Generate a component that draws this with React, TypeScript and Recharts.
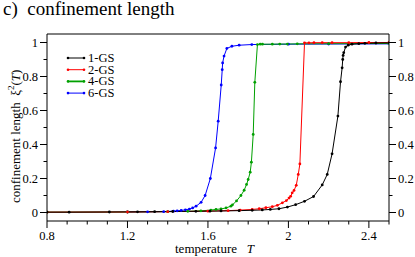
import { LineChart, Line, XAxis, YAxis, ReferenceArea } from "recharts";

const FONT = '"Liberation Serif", "Times New Roman", serif';

// temperature / xi^2 values
const gs1T = [0.8, 0.91, 1.11, 1.25, 1.335, 1.425, 1.54, 1.61, 1.665, 1.755, 1.82, 1.87, 1.91, 1.953, 1.995, 2.036, 2.08, 2.125, 2.168, 2.193, 2.217, 2.246, 2.259, 2.267, 2.27, 2.272, 2.275, 2.284, 2.297, 2.316, 2.35, 2.38, 2.435, 2.5];
const gs1Xi = [0.002, 0.002, 0.003, 0.004, 0.005, 0.006, 0.007, 0.008, 0.009, 0.011, 0.013, 0.015, 0.018, 0.022, 0.032, 0.046, 0.066, 0.094, 0.162, 0.224, 0.345, 0.567, 0.769, 0.851, 0.9, 0.924, 0.94, 0.973, 0.984, 0.99, 0.993, 0.995, 0.997, 0.998];

const gs2T = [0.8, 1.2, 1.4, 1.6, 1.7, 1.76, 1.82, 1.855, 1.888, 1.92, 1.945, 1.97, 1.99, 2.003, 2.011, 2.019, 2.028, 2.039, 2.049, 2.057, 2.08, 2.102, 2.127, 2.168, 2.217, 2.3, 2.4, 2.5];
const gs2Xi = [0.002, 0.003, 0.005, 0.008, 0.011, 0.014, 0.018, 0.022, 0.028, 0.034, 0.042, 0.057, 0.07, 0.085, 0.095, 0.116, 0.13, 0.16, 0.224, 0.286, 0.998, 0.998, 0.999, 0.999, 0.999, 0.999, 1.0, 1.0];

const gs4T = [0.8, 1.2, 1.4, 1.5, 1.565, 1.615, 1.64, 1.665, 1.69, 1.714, 1.722, 1.742, 1.764, 1.78, 1.792, 1.8, 1.81, 1.816, 1.825, 1.833, 1.846, 1.86, 1.871, 1.92, 1.957, 1.995, 2.044, 2.2, 2.5];
const gs4Xi = [0.002, 0.003, 0.005, 0.007, 0.01, 0.014, 0.018, 0.021, 0.027, 0.037, 0.045, 0.068, 0.1, 0.131, 0.165, 0.194, 0.237, 0.296, 0.459, 0.766, 0.988, 0.99, 0.99, 0.99, 0.991, 0.991, 0.992, 0.993, 0.994];

const gs6T = [1.2, 1.3, 1.38, 1.429, 1.447, 1.467, 1.488, 1.508, 1.524, 1.541, 1.566, 1.586, 1.612, 1.638, 1.651, 1.666, 1.671, 1.673, 1.68, 1.694, 1.719, 1.755, 1.818, 2.0, 2.2, 2.5];
const gs6Xi = [0.003, 0.004, 0.005, 0.008, 0.01, 0.012, 0.016, 0.02, 0.027, 0.037, 0.06, 0.1, 0.2, 0.38, 0.537, 0.75, 0.84, 0.88, 0.92, 0.965, 0.978, 0.984, 0.988, 0.99, 0.991, 0.992];

const xTicks = [0.8, 0.9, 1.0, 1.1, 1.2, 1.3, 1.4, 1.5, 1.6, 1.7, 1.8, 1.9, 2.0, 2.1, 2.2, 2.3, 2.4, 2.5];
const xMajor = [0.8, 1.2, 1.6, 2.0, 2.4];
const yTicks = [0, 0.1, 0.2, 0.3, 0.4, 0.5, 0.6, 0.7, 0.8, 0.9, 1.0];
const yMajor = [0, 0.2, 0.4, 0.6, 0.8, 1.0];

const series = [
  { name: "1-GS", color: "#000000", t: gs1T, xi: gs1Xi },
  { name: "2-GS", color: "#ff0000", t: gs2T, xi: gs2Xi },
  { name: "4-GS", color: "#00a000", t: gs4T, xi: gs4Xi },
  { name: "6-GS", color: "#0000ff", t: gs6T, xi: gs6Xi },
];

const toPoints = (t: number[], xi: number[]) => t.map((v, i) => ({ x: v, y: xi[i] }));
const isMajor = (v: number, list: number[]) => list.some((m) => Math.abs(m - v) < 1e-6);

function BottomTick(props: any) {
  const { x, y, payload } = props;
  const major = isMajor(payload.value, xMajor);
  return (
    <g>
      <line x1={x} x2={x} y1={y} y2={y + (major ? 7 : 3.5)} stroke="#000" />
      {major && (
        <text x={x} y={y + 19} textAnchor="middle" fontFamily={FONT} fontSize={12.5} fill="#000">
          {String(payload.value)}
        </text>
      )}
    </g>
  );
}

function LeftTick(props: any) {
  const { x, y, payload } = props;
  const major = isMajor(payload.value, yMajor);
  return (
    <g>
      <line x1={x - (major ? 7 : 3.5)} x2={x} y1={y} y2={y} stroke="#000" />
      {major && (
        <text x={x - 9} y={y + 4.5} textAnchor="end" fontFamily={FONT} fontSize={12.5} fill="#000">
          {String(payload.value)}
        </text>
      )}
    </g>
  );
}

function RightTick(props: any) {
  const { x, y, payload } = props;
  const major = isMajor(payload.value, yMajor);
  return (
    <g>
      <line x1={x} x2={x + (major ? 7 : 3.5)} y1={y} y2={y} stroke="#000" />
      {major && (
        <text x={x + 9} y={y + 4.5} textAnchor="start" fontFamily={FONT} fontSize={12.5} fill="#000">
          {String(payload.value)}
        </text>
      )}
    </g>
  );
}

export default function App() {
  // drawn back to front: 6-GS under, 1-GS on top
  const drawOrder = [...series].reverse();
  return (
    <div style={{ position: "absolute", left: 0, top: 0, width: 415, height: 257, background: "#fff" }}>
      <LineChart width={415} height={257} data={[]} margin={{ top: 34, right: 0, bottom: 0, left: 0 }}>
        <XAxis
          dataKey="x"
          type="number"
          domain={[0.8, 2.5]}
          ticks={xTicks}
          allowDataOverflow
          height={36}
          axisLine={false}
          tickLine={false}
          tickSize={0}
          tickMargin={0}
          tick={<BottomTick />}
          interval={0}
        />
        <YAxis
          yAxisId="left"
          type="number"
          domain={[-0.05, 1.05]}
          ticks={yTicks}
          allowDataOverflow
          width={47}
          axisLine={false}
          tickLine={false}
          tickSize={0}
          tickMargin={0}
          tick={<LeftTick />}
          interval={0}
        />
        <YAxis
          yAxisId="right"
          orientation="right"
          type="number"
          domain={[-0.05, 1.05]}
          ticks={yTicks}
          allowDataOverflow
          width={26}
          axisLine={false}
          tickLine={false}
          tickSize={0}
          tickMargin={0}
          tick={<RightTick />}
          interval={0}
        />
        <ReferenceArea
          yAxisId="left"
          x1={0.8}
          x2={2.5}
          y1={-0.05}
          y2={1.05}
          fill="none"
          stroke="#000"
          strokeWidth={1}
          ifOverflow="visible"
        />
        {drawOrder.map((s, i) => (
          <Line
            key={s.name}
            yAxisId={i === 0 ? "right" : "left"}
            data={toPoints(s.t, s.xi)}
            dataKey="y"
            type="linear"
            stroke={s.color}
            strokeWidth={1}
            dot={{ r: 1.4, fill: s.color, stroke: "none" }}
            activeDot={false}
            isAnimationActive={false}
          />
        ))}
      </LineChart>

      {/* titles and legend */}
      <svg
        width={415}
        height={257}
        style={{ position: "absolute", left: 0, top: 0, pointerEvents: "none" }}
        fontFamily={FONT}
        fill="#000"
      >
        <text x={3} y={15} fontSize={19} style={{ whiteSpace: "pre" }}>
          {"c)  confinement length"}
        </text>

        <text transform="rotate(-90)" x={-203} y={20} fontSize={13} style={{ whiteSpace: "pre" }}>
          {"confinement length  ξ"}
          <tspan fontSize={9} dy={-6}>2</tspan>
          <tspan dy={6}>(</tspan>
          <tspan fontStyle="italic">T</tspan>
          <tspan>)</tspan>
        </text>

        <text x={175} y={253} fontSize={13} style={{ whiteSpace: "pre" }}>
          {"temperature   "}
          <tspan fontStyle="italic">T</tspan>
        </text>

        {series.map((s, i) => {
          const y = 58 + i * 11.7;
          return (
            <g key={s.name}>
              <line x1={68} x2={84} y1={y} y2={y} stroke={s.color} strokeWidth={s.name === "4-GS" ? 1.8 : 1} />
              <circle cx={68} cy={y} r={1.3} fill={s.color} />
              <circle cx={84} cy={y} r={1.3} fill={s.color} />
              <text x={88} y={y + 4} fontSize={12.5}>
                {s.name}
              </text>
            </g>
          );
        })}
      </svg>
    </div>
  );
}
